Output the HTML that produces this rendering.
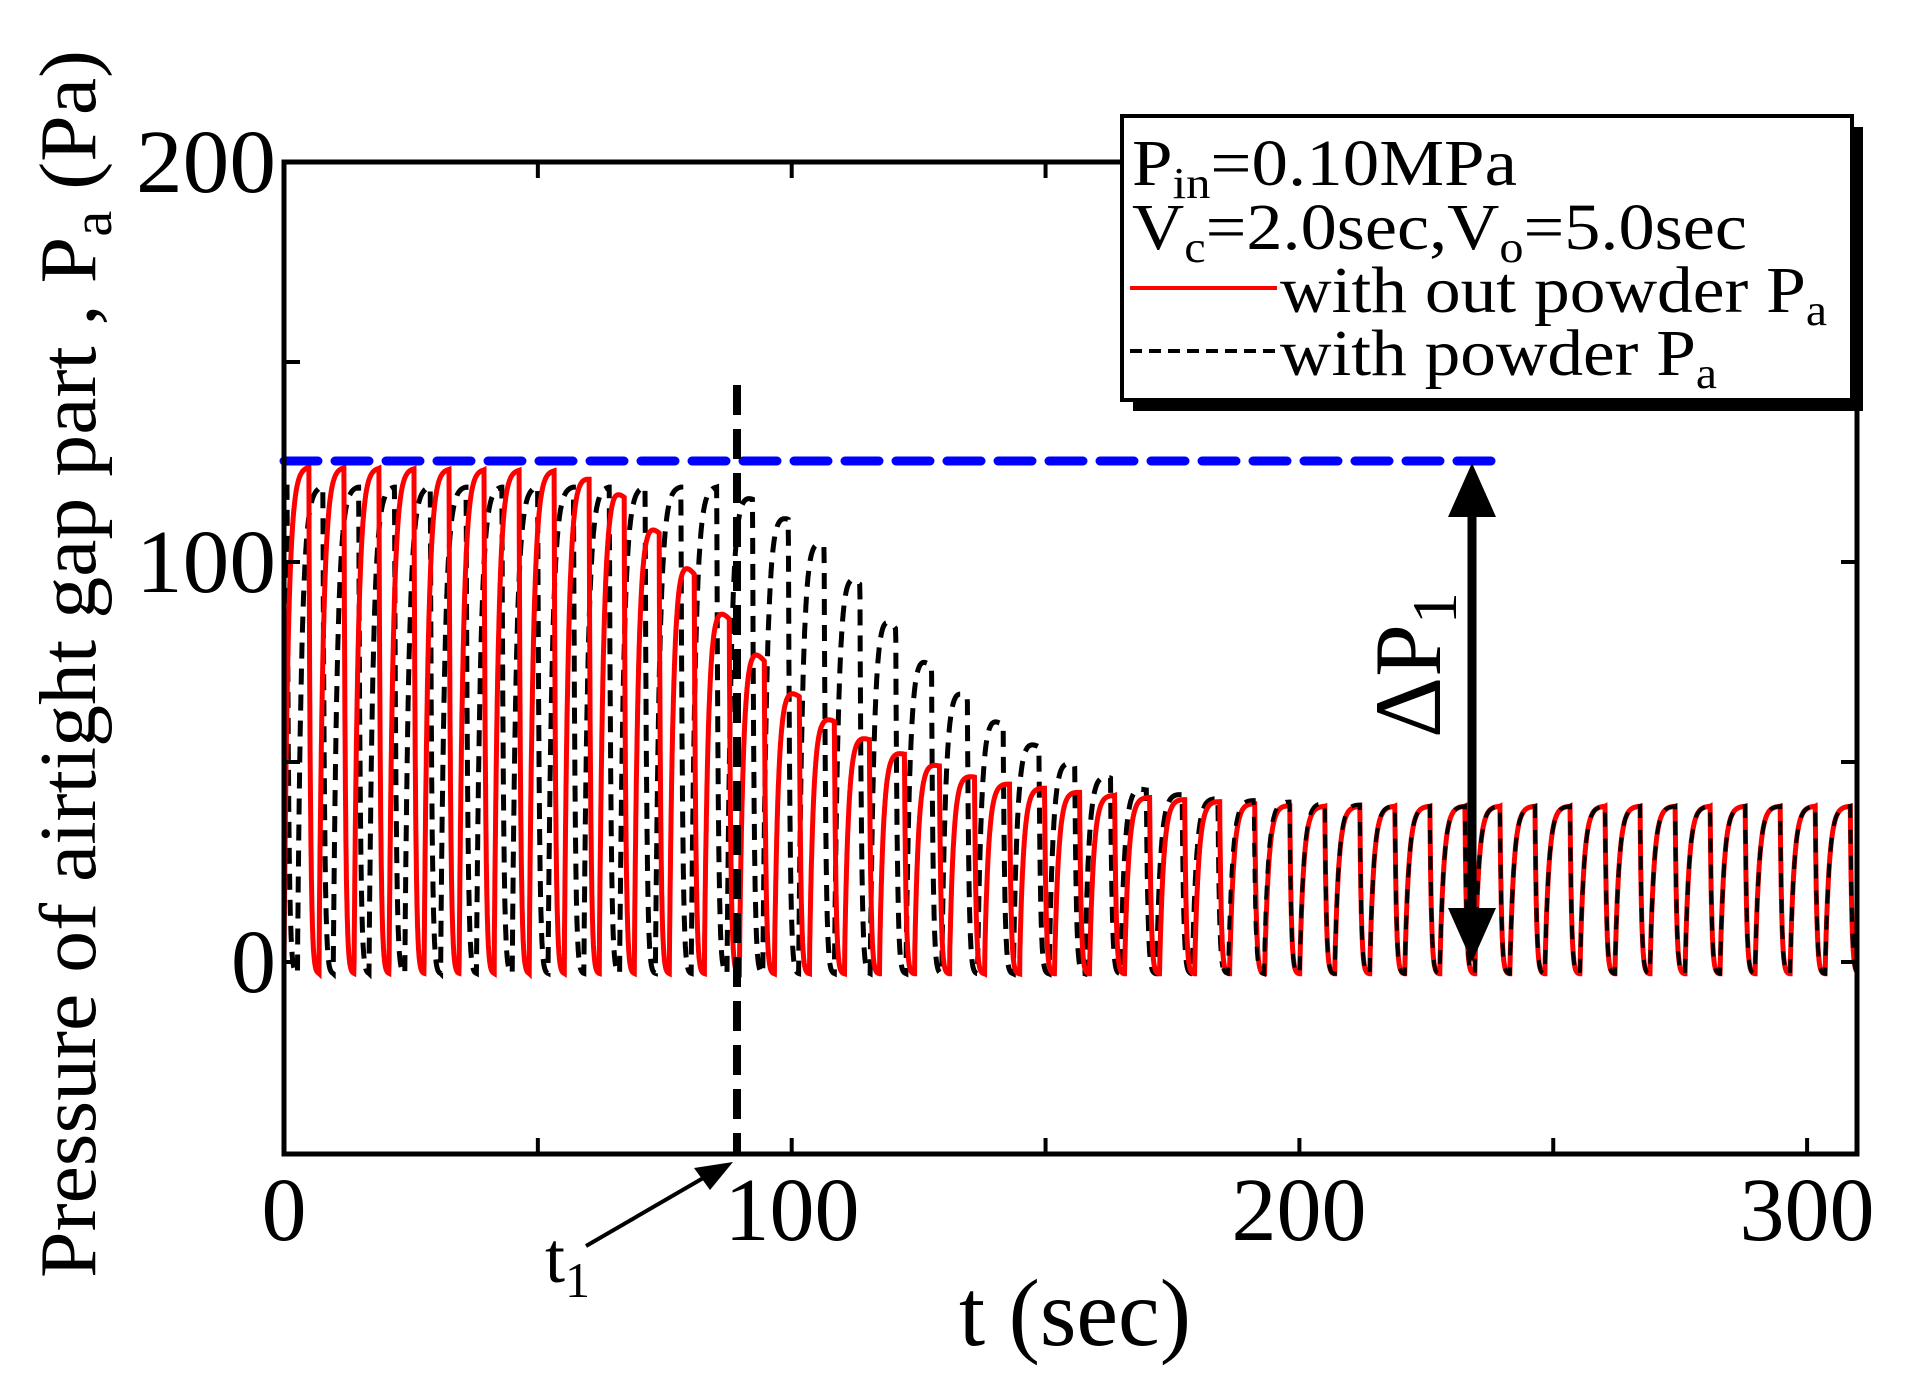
<!DOCTYPE html>
<html><head><meta charset="utf-8"><style>html,body{margin:0;padding:0;background:#fff}svg{display:block}</style></head>
<body>
<svg id="s" width="1906" height="1374" viewBox="0 0 1906 1374" xmlns="http://www.w3.org/2000/svg" font-family="'Liberation Serif',serif">
<rect width="1906" height="1374" fill="#fff"/>
<defs><clipPath id="c"><rect x="284" y="162" width="1573" height="992"/></clipPath></defs>
<g clip-path="url(#c)">
<path id="blk" fill="none" stroke="#000" stroke-width="5" stroke-dasharray="16 10"/>
<path id="red" fill="none" stroke="#f00" stroke-width="5"/>
<path id="blk2" fill="none" stroke="#000" stroke-width="4" stroke-dasharray="14 12"/>
</g>
<line x1="284" y1="461" x2="1500" y2="461" stroke="#0000ff" stroke-width="9" stroke-dasharray="34 17" stroke-linecap="round"/>
<line x1="737" y1="385" x2="737" y2="1154" stroke="#000" stroke-width="8" stroke-dasharray="30 14"/>
<rect x="284" y="162" width="1573" height="992" fill="none" stroke="#000" stroke-width="5"/>
<g id="ticks" stroke="#000" stroke-width="4"></g>
<g font-size="90" fill="#000">
<text x="276" y="192" text-anchor="end" textLength="140" lengthAdjust="spacingAndGlyphs">200</text>
<text x="276" y="592" text-anchor="end" textLength="140" lengthAdjust="spacingAndGlyphs">100</text>
<text x="276" y="992" text-anchor="end">0</text>
<text x="284" y="1240" text-anchor="middle">0</text>
<text x="792" y="1240" text-anchor="middle" textLength="135" lengthAdjust="spacingAndGlyphs">100</text>
<text x="1299" y="1240" text-anchor="middle" textLength="135" lengthAdjust="spacingAndGlyphs">200</text>
<text x="1807" y="1240" text-anchor="middle" textLength="135" lengthAdjust="spacingAndGlyphs">300</text>
<text x="1075" y="1345" text-anchor="middle" font-size="95" textLength="232" lengthAdjust="spacingAndGlyphs">t (sec)</text>
<text transform="translate(95,1278) rotate(-90)" font-size="80" textLength="1228" lengthAdjust="spacingAndGlyphs">Pressure of airtight gap part , P<tspan font-size="56" dy="16">a</tspan><tspan dy="-16"> (Pa)</tspan></text>
<text x="545" y="1282" font-size="72">t<tspan font-size="50" dy="15">1</tspan></text>
<text transform="translate(1440,738) rotate(-90)" font-size="95">ΔP<tspan font-size="64" dy="16">1</tspan></text>
</g>
<line x1="586" y1="1246" x2="705" y2="1177" stroke="#000" stroke-width="4"/>
<polygon points="733,1162 694,1168 710,1190" fill="#000"/>
<line x1="1472" y1="510" x2="1472" y2="915" stroke="#000" stroke-width="9"/>
<polygon points="1472,463 1448,517 1496,517" fill="#000"/>
<polygon points="1472,962 1448,908 1496,908" fill="#000"/>
<rect x="1133" y="127" width="730" height="284" fill="#000"/>
<rect x="1122" y="116" width="730" height="284" fill="#fff" stroke="#000" stroke-width="4"/>
<g font-size="66" fill="#000">
<text x="1132" y="185" textLength="385" lengthAdjust="spacingAndGlyphs">P<tspan font-size="44" dy="13">in</tspan><tspan dy="-13">=0.10MPa</tspan></text>
<text x="1132" y="249" textLength="615" lengthAdjust="spacingAndGlyphs">V<tspan font-size="44" dy="13">c</tspan><tspan dy="-13">=2.0sec,V</tspan><tspan font-size="44" dy="13">o</tspan><tspan dy="-13">=5.0sec</tspan></text>
<text x="1280" y="312" textLength="547" lengthAdjust="spacingAndGlyphs">with out powder P<tspan font-size="44" dy="13">a</tspan></text>
<text x="1280" y="375" textLength="437" lengthAdjust="spacingAndGlyphs">with powder P<tspan font-size="44" dy="13">a</tspan></text>
</g>
<line x1="1130" y1="288" x2="1277" y2="288" stroke="#f00" stroke-width="4"/>
<line x1="1130" y1="351" x2="1277" y2="351" stroke="#000" stroke-width="4" stroke-dasharray="12 7"/>
</svg>
<script>
(function(){
var X=function(t){return 284+t*5.077;},Y=function(p){return 962-4*p;};
function interp(tb,t){for(var i=1;i<tb.length;i++){if(t<=tb[i][0]){var a=tb[i-1],b=tb[i];return a[1]+(b[1]-a[1])*(t-a[0])/(b[0]-a[0]);}}return tb[tb.length-1][1];}
var R=[[0,124],[55,123],[65,119],[72,110],[78,102],[85,90],[93,78],[98,70],[106,62],[113,57],[120,53],[127,50],[134,47],[140,45],[160,42],[200,39],[320,39]];
var B=[[0,119],[88,119],[95,114],[102,109],[109,101],[116,91],[122,81],[130,71],[136,65],[143,58],[150,53],[156,49],[163,46],[170,43],[183,41],[220,39],[320,39]];
var T=6.9;
function wave(te,A){if(te<0)return 0;var ph=te%T;var tr=4.9;
 if(ph<tr)return A*(1-Math.exp(-ph/0.8));
 var pe=A*(1-Math.exp(-tr/0.8));return (pe+3)*Math.exp(-(ph-tr)/0.3)-3;}
function build(tb,off,t0,t1){var d="";for(var t=t0;t<=t1;t+=0.05){var o=off?4.3*Math.max(0,1-t/200):0;var te=t+o;var p=wave(te,interp(tb,t));d+=(d?"L":"M")+X(t).toFixed(1)+" "+Y(p).toFixed(1);}return d;}
document.getElementById("red").setAttribute("d",build(R,false,0,312));
document.getElementById("blk").setAttribute("d",build(B,true,0,185));
document.getElementById("blk2").setAttribute("d",build(B,true,185,312));
var g=document.getElementById("ticks"),s="";
for(var t=50;t<=300;t+=50){var x=X(t);s+='<line x1="'+x+'" y1="1154" x2="'+x+'" y2="1138"/><line x1="'+x+'" y1="162" x2="'+x+'" y2="178"/>';}
for(var p=0;p<=150;p+=50){var y=Y(p);s+='<line x1="284" y1="'+y+'" x2="300" y2="'+y+'"/><line x1="1857" y1="'+y+'" x2="1841" y2="'+y+'"/>';}
g.innerHTML=s;
})();
</script>
</body></html>
